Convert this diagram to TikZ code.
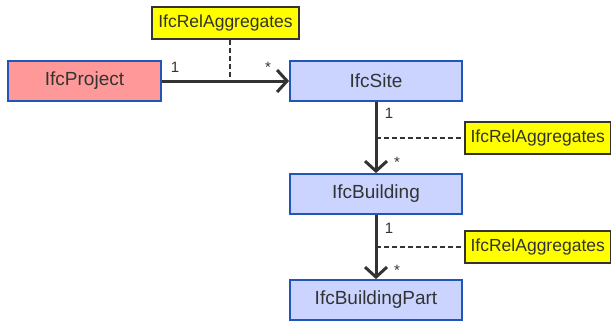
\documentclass[tikz,border=0pt]{standalone}
\usepackage{fontspec}
\setmainfont{Liberation Sans}
\usetikzlibrary{arrows.meta}
\definecolor{pinkf}{HTML}{FF9999}
\definecolor{bluef}{HTML}{CAD4FF}
\definecolor{blueb}{HTML}{1F56B8}
\definecolor{linec}{HTML}{333333}
\definecolor{yel}{HTML}{FFFF00}
\tikzset{
  cls/.style={draw=blueb, line width=1.8pt, minimum height=40pt, inner sep=0pt, font=\fontsize{19}{20}\selectfont, text=linec},
  rel/.style={draw=linec, fill=yel, line width=1.5pt, minimum height=32pt, inner sep=0pt, font=\fontsize{17.5}{18}\selectfont, text=linec},
  assoc/.style={draw=linec, line width=3pt, -{Straight Barb[length=10pt,width=22pt,line width=3pt]}},
  dsh/.style={draw=linec, line width=1.6pt, dash pattern=on 5pt off 3pt},
  mult/.style={font=\fontsize{15}{16}\selectfont, text=linec, inner sep=0pt}
}
\begin{document}
\begin{tikzpicture}[x=1pt,y=-1pt]
\useasboundingbox (0,0) rectangle (611,322);
\node[cls, fill=pinkf, minimum width=153pt] (proj) at (84.5,81) {IfcProject};
\node[cls, fill=bluef, minimum width=172pt] (site) at (376,81) {IfcSite};
\node[cls, fill=bluef, minimum width=172pt] (bldg) at (376,194) {IfcBuilding};
\node[cls, fill=bluef, minimum width=172pt] (part) at (376,300) {IfcBuildingPart};
\node[rel, minimum width=147pt] (r1) at (225.5,23) {IfcRelAggregates};
\node[rel, minimum width=146pt, anchor=west] (r2) at (464,138) {IfcRelAggregates};
\node[rel, minimum width=146pt, anchor=west] (r3) at (464,247) {IfcRelAggregates};
\draw[assoc] (proj.east) -- (site.west);
\draw[assoc] (site.south) -- (bldg.north);
\draw[assoc] (bldg.south) -- (part.north);
\coordinate (c1) at (230,81);
\coordinate (c2) at (376,138);
\coordinate (c3) at (376,247);
\draw[dsh] (r1.south -| c1) -- (c1);
\draw[dsh] (c2) -- (r2.west);
\draw[dsh] (c3) -- (r3.west);
\node[mult] (m1) at (175,67) {1};
\node[mult] (m2) at (268,67) {*};
\node[mult] (m3) at (389,113) {1};
\node[mult] (m4) at (397,162) {*};
\node[mult] (m5) at (389,228) {1};
\node[mult] (m6) at (397,270) {*};
\end{tikzpicture}
\end{document}
